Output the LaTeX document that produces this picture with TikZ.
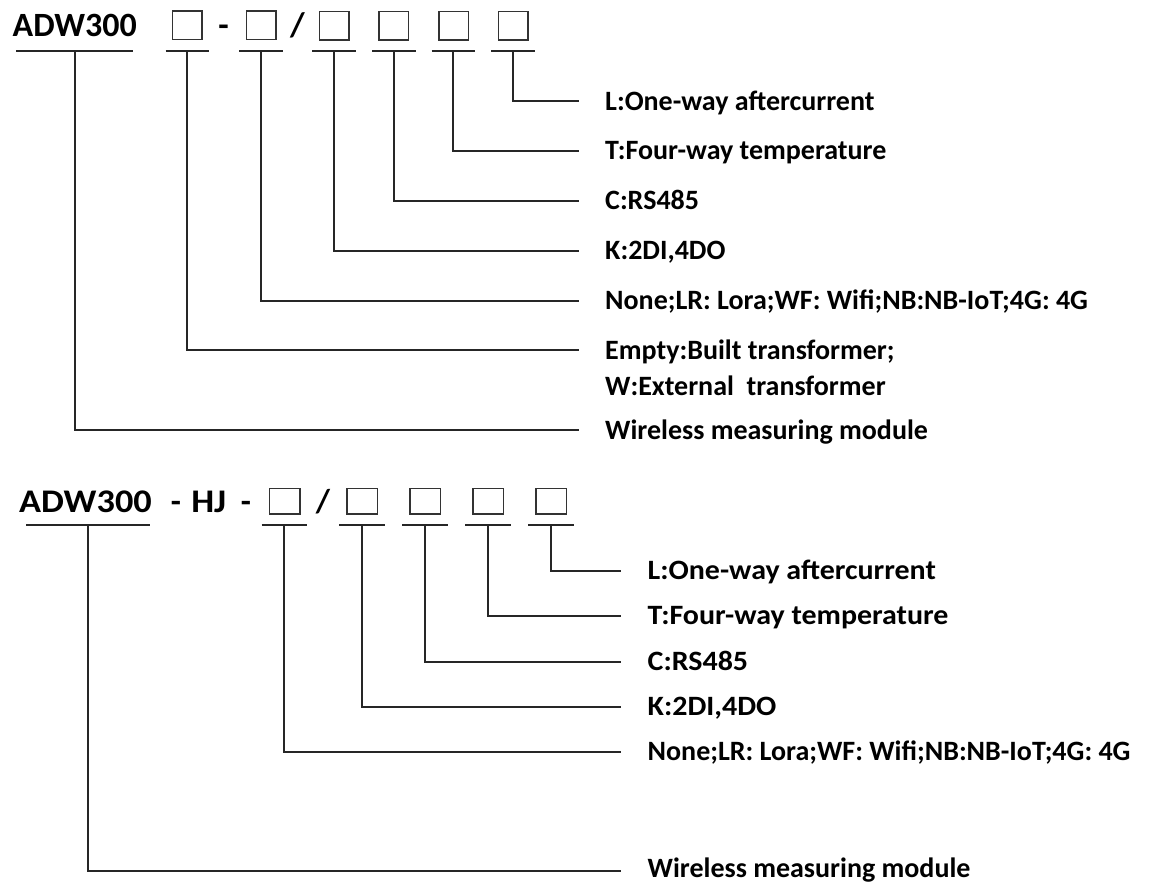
\documentclass[tikz,border=0pt]{standalone}
\usepackage{fontspec}
\setmainfont{Carlito}
\newcommand{\wider}[1]{\scalebox{1.07}[1]{#1}}
\begin{document}
\begin{tikzpicture}[x=1pt,y=-1pt,
  ln/.style={line width=1.8pt, draw=black!85},
  bxt/.style={draw=black!80, line width=1.6pt, minimum width=29.4pt, minimum height=28.4pt, inner sep=0pt},
  bxb/.style={draw=black!80, line width=1.6pt, minimum width=30.4pt, minimum height=25.4pt, inner sep=0pt},
  code/.style={font=\fontsize{34}{40}\selectfont\bfseries, inner sep=0pt, anchor=base},
  codeb/.style={font=\fontsize{33}{40}\selectfont\bfseries, inner sep=0pt, anchor=base},
  lab/.style={font=\fontsize{28}{34}\selectfont\bfseries, inner sep=0pt, anchor=base west},
]
\useasboundingbox (0,0) rectangle (1172,883);

% ---------------- top code ----------------
\node[code, anchor=base west] (ta) at (12.5,36.7) {ADW300};
\node[bxt] (tb1) at (187.2,25.3) {};
\node[code] (td1) at (223.5,36.7) {-};
\node[bxt] (tb2) at (261.2,25.3) {};
\node[code] (ts1) at (297.5,36.7) {/};
\node[bxt] (tb3) at (334.2,25.8) {};
\node[bxt] (tb4) at (393.8,25.8) {};
\node[bxt] (tb5) at (453.8,25.8) {};
\node[bxt] (tb6) at (513.3,25.8) {};

% underlines
\draw[ln] (16,51) -- (133,51);
\draw[ln] (165.7,51) -- (209.3,51);
\draw[ln] (239,51) -- (282.7,51);
\draw[ln] (312.3,51) -- (356,51);
\draw[ln] (372,51) -- (415.7,51);
\draw[ln] (431.7,51) -- (475,51);
\draw[ln] (491.3,51) -- (535,51);

\coordinate (tu0) at (74.7,51);
\coordinate (tu1) at (187.3,51);
\coordinate (tu2) at (260.7,51);
\coordinate (tu3) at (334.3,51);
\coordinate (tu4) at (394,51);
\coordinate (tu5) at (453.3,51);
\coordinate (tu6) at (512.7,51);

\coordinate (te6) at (579,101);
\coordinate (te5) at (579,150.7);
\coordinate (te4) at (579,200.7);
\coordinate (te3) at (579,250.7);
\coordinate (te2) at (579,300.7);
\coordinate (te1) at (579,350);
\coordinate (te0) at (579,430);

\draw[ln] (tu6) |- (te6);
\draw[ln] (tu5) |- (te5);
\draw[ln] (tu4) |- (te4);
\draw[ln] (tu3) |- (te3);
\draw[ln] (tu2) |- (te2);
\draw[ln] (tu1) |- (te1);
\draw[ln] (tu0) |- (te0);

\node[lab] (tl6) at (605,110) {L:One-way aftercurrent};
\node[lab] (tl5) at (605,159.7) {T:Four-way temperature};
\node[lab] (tl4) at (605,209.7) {C:RS485};
\node[lab] (tl3) at (605,259.7) {K:2DI,4DO};
\node[lab] (tl2) at (605,309.7) {None;LR: Lora;WF: Wifi;NB:NB-IoT;4G: 4G};
\node[lab] (tl1) at (605,359) {Empty:Built transformer;};
\node[lab] (tl1b) at (605,395) {W:External~~transformer};
\node[lab] (tl0) at (605,439) {Wireless measuring module};

% ---------------- bottom code ----------------
\node[codeb, anchor=base west] (ba) at (19,512.3) {\scalebox{1.1}[1]{ADW300}};
\node[codeb] (bd1) at (175.8,512.3) {-};
\node[codeb] (bhj) at (208.8,512.3) {\scalebox{1.1}[1]{HJ}};
\node[codeb] (bd2) at (245.8,512.3) {-};
\node[bxb] (bb1) at (284.5,501.3) {};
\node[codeb] (bs1) at (323,512.3) {/};
\node[bxb] (bb2) at (362.3,501.3) {};
\node[bxb] (bb3) at (425.3,501.3) {};
\node[bxb] (bb4) at (488.3,501.3) {};
\node[bxb] (bb5) at (551.3,501.3) {};

\draw[ln] (26,525) -- (150,525);
\draw[ln] (261.7,525) -- (307.3,525);
\draw[ln] (339,525) -- (385.3,525);
\draw[ln] (402,525) -- (448.3,525);
\draw[ln] (465.3,525) -- (511.3,525);
\draw[ln] (528.3,525) -- (574.3,525);

\coordinate (bu0) at (88,525);
\coordinate (bu1) at (284.3,525);
\coordinate (bu2) at (362,525);
\coordinate (bu3) at (424.7,525);
\coordinate (bu4) at (488,525);
\coordinate (bu5) at (551.3,525);

\coordinate (be5) at (620.7,570.7);
\coordinate (be4) at (620.7,616);
\coordinate (be3) at (620.7,661.7);
\coordinate (be2) at (620.7,706.7);
\coordinate (be1) at (620.7,752.3);
\coordinate (be0) at (620.7,870.7);

\draw[ln] (bu5) |- (be5);
\draw[ln] (bu4) |- (be4);
\draw[ln] (bu3) |- (be3);
\draw[ln] (bu2) |- (be2);
\draw[ln] (bu1) |- (be1);
\draw[ln] (bu0) |- (be0);

\node[lab] (bl5) at (647.5,579) {\wider{L:One-way aftercurrent}};
\node[lab] (bl4) at (647.5,624.3) {\wider{T:Four-way temperature}};
\node[lab] (bl3) at (647.5,670) {\wider{C:RS485}};
\node[lab] (bl2) at (647.5,715) {\wider{K:2DI,4DO}};
\node[lab] (bl1) at (647.5,760.6) {None;LR: Lora;WF: Wifi;NB:NB-IoT;4G: 4G};
\node[lab] (bl0) at (647.5,877.5) {Wireless measuring module};
\end{tikzpicture}
\end{document}
